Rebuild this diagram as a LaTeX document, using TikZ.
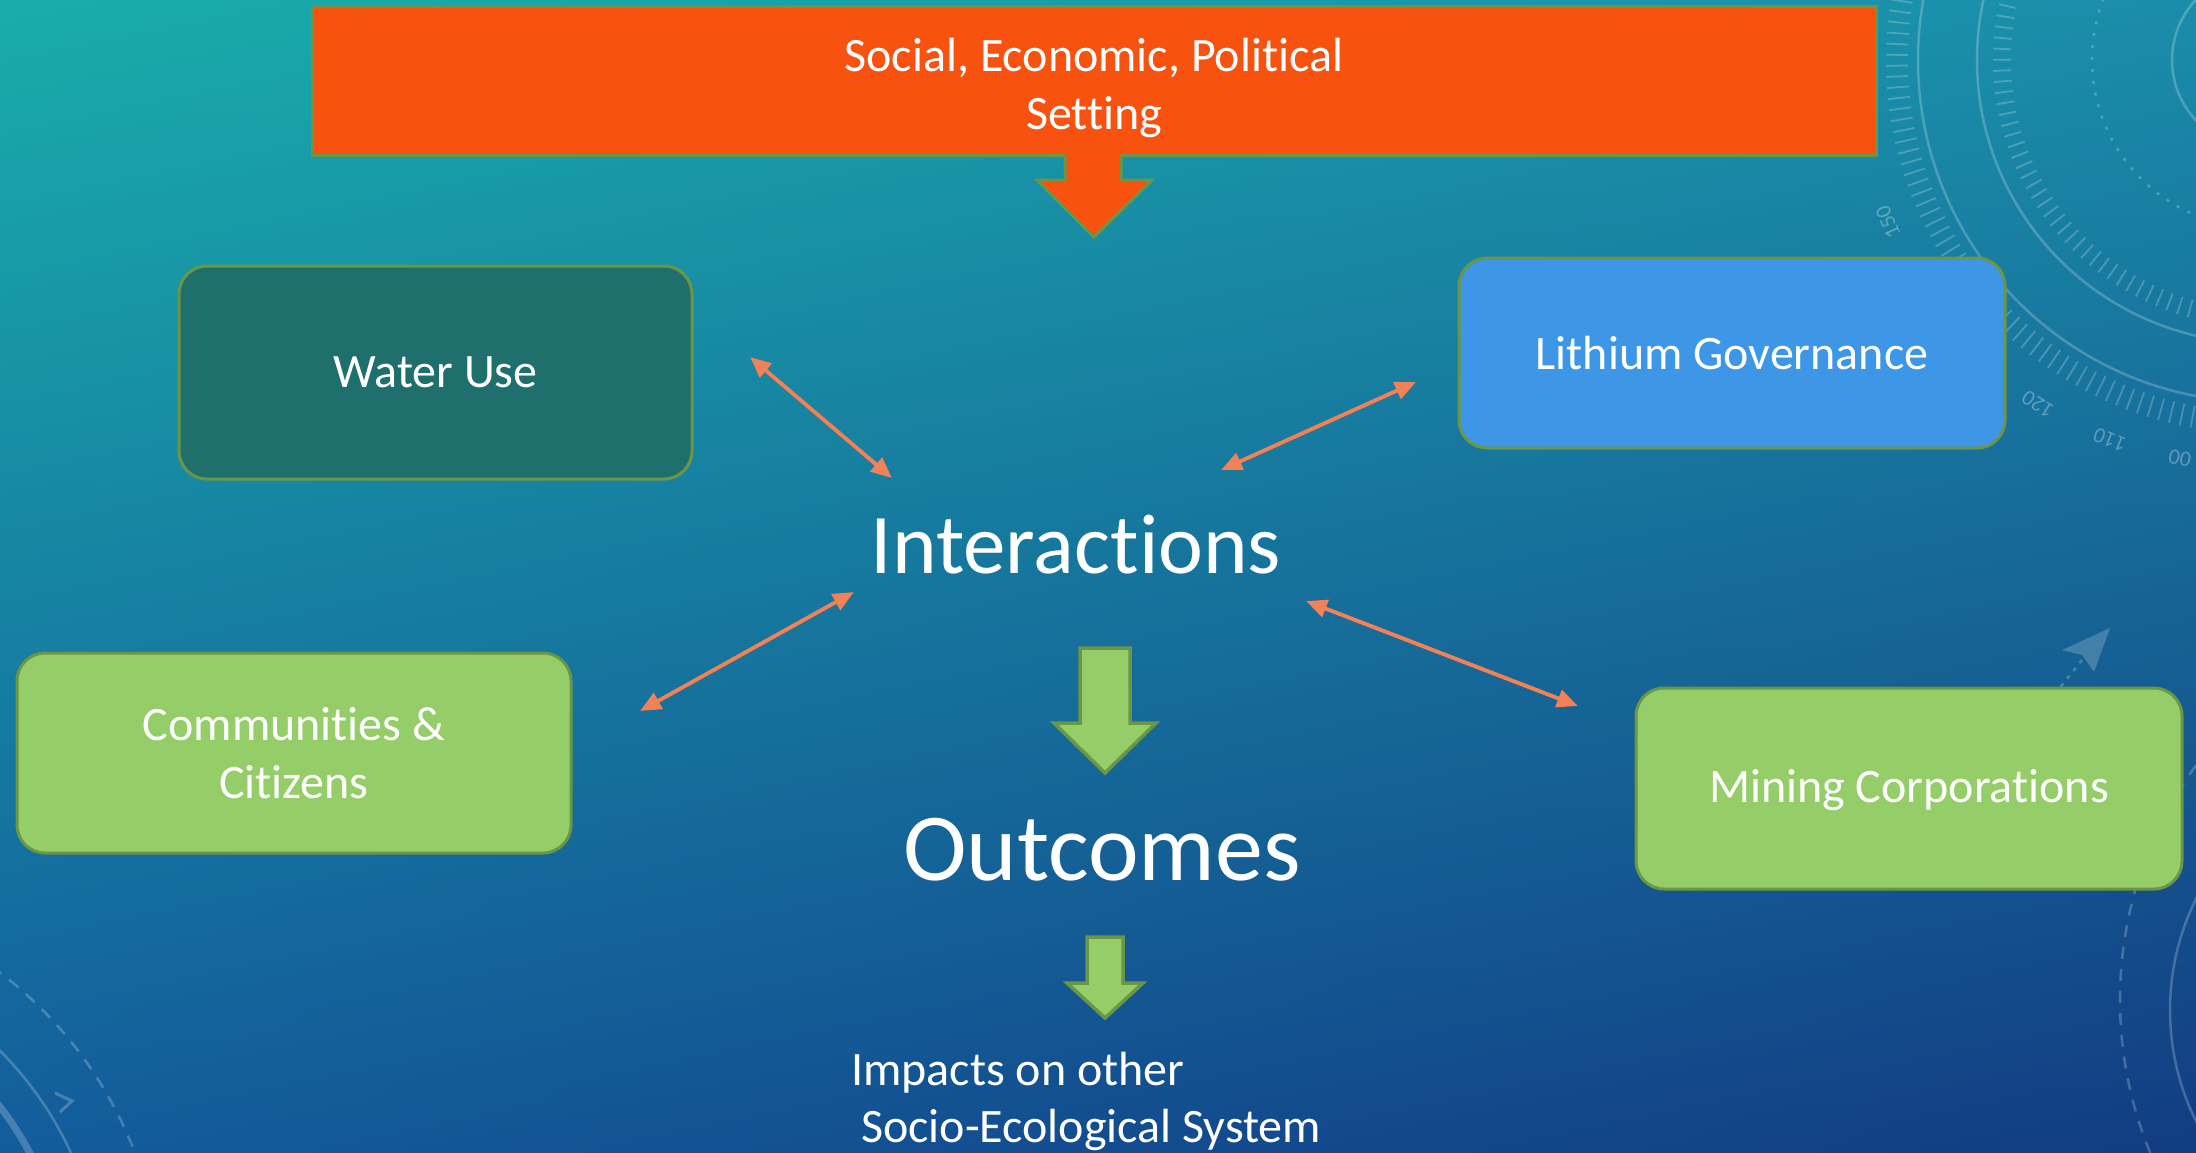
\documentclass[tikz,border=0pt]{standalone}
\usepackage{fontspec}
\setmainfont{Carlito}[Ligatures=NoCommon]
\usetikzlibrary{arrows.meta,shadings}
\definecolor{bgUL}{RGB}{25,173,170}
\definecolor{bgUR}{RGB}{26,141,170}
\definecolor{bgLL}{RGB}{19,92,156}
\definecolor{bgLR}{RGB}{18,60,130}
\definecolor{setorange}{RGB}{248,82,16}
\definecolor{edgegreen}{RGB}{106,150,70}
\definecolor{waterteal}{RGB}{31,112,108}
\definecolor{govblue}{RGB}{61,151,230}
\definecolor{actorgreen}{RGB}{149,206,104}
\definecolor{linkorange}{RGB}{240,130,90}
\begin{document}
\begin{tikzpicture}[x=1pt,y=-1pt,
  box/.style={rounded corners=28pt, draw=edgegreen, line width=3pt, text=white,
    font=\fontsize{48}{58}\selectfont, align=center, inner sep=0pt},
  deco/.style={draw=white, opacity=0.22, line width=2.5pt},
  decotick/.style={draw=white, opacity=0.22, line width=22pt, dash pattern=on 1.8pt off 9pt},
  deconum/.style={text=white, opacity=0.3, font=\fontsize{22}{22}\selectfont, inner sep=0pt},
  link/.style={draw=linkorange, line width=4pt, {Triangle[length=21pt,width=18pt]}-{Triangle[length=21pt,width=18pt]}},
  linkshadow/.style={draw=black, opacity=0.3, line width=4pt, {Triangle[length=21pt,width=18pt]}-{Triangle[length=21pt,width=18pt]}},
  bigtext/.style={text=white, inner sep=0pt, anchor=base},
  blockgreen/.style={fill=actorgreen, draw=edgegreen, line width=3.5pt, line join=miter}
]
\useasboundingbox (0,0) rectangle (2196,1152);
% background
\shade[upper left=bgUL, upper right=bgUR, lower left=bgLL, lower right=bgLR] (0,0) rectangle (2196,1152);
\begin{scope}
\clip (0,0) rectangle (2196,1152);
% top-right dial
\draw[deco] (2260,60) circle[radius=342];
\draw[deco] (2260,60) circle[radius=283];
\draw[deco, dash pattern=on 3pt off 9pt] (2260,60) circle[radius=168];
\draw[deco] (2260,60) circle[radius=88];
\draw[decotick] (2260,60) circle[radius=363];
\draw[decotick, line width=18pt] (2260,60) circle[radius=258];
\node[deconum, rotate=113] at (1888,222) {150};
\node[deconum, rotate=147] at (2038,404) {120};
\node[deconum, rotate=158] at (2110,440) {110};
\node[deconum, rotate=168] at (2180,458) {00};
% bottom-left dial
\draw[deco, dash pattern=on 12pt off 10pt] (-250,1300) circle[radius=412];
\draw[deco] (-250,1300) circle[radius=353];
\draw[deco, line width=7pt] (-250,1300) circle[radius=316];
\draw[deco, line width=3pt] (55,1093) -- (72,1101) -- (60,1112);
% bottom-right dial
\draw[deco, dash pattern=on 12pt off 10pt] (2520,1000) circle[radius=400];
\draw[deco] (2420,1010) circle[radius=250];
\fill[white, opacity=0.2] (2110,628) -- (2062,650) -- (2082,655) -- (2094,672) -- cycle;
\draw[deco, dash pattern=on 4pt off 6pt] (2082,660) -- (2050,700);
\end{scope}

% setting box and arrow
\node[box, rounded corners=0pt, fill=setorange, minimum width=1564pt, minimum height=149pt] (setting) at (1094,80.5) {};
\node[box, draw=none] (settingtext) at (1094,88) {Social, Economic, Political\\Setting};
\fill[setorange] (1065,150) -- (1121,150) -- (1121,180) -- (1152,180) -- (1094,237) -- (1037,180) -- (1065,180) -- cycle;
\draw[edgegreen, line width=3pt, line join=miter] (1065,156) -- (1065,180) -- (1037,180) -- (1094,237) -- (1152,180) -- (1121,180) -- (1121,156);

% actor boxes
\node[box, fill=waterteal, minimum width=513pt, minimum height=213pt] (water) at (435.5,372.5) {Water Use};
\node[box, fill=govblue, minimum width=546pt, minimum height=190pt] (gov) at (1732,353) {Lithium Governance};
\node[box, fill=actorgreen, minimum width=554pt, minimum height=200pt] (comm) at (294,753) {Communities \&\\Citizens};
\node[box, fill=actorgreen, minimum width=546pt, minimum height=201pt, text depth=5pt] (mining) at (1909,788.5) {Mining Corporations};

% central texts
\node[bigtext, font=\fontsize{85}{85}\selectfont] (inter) at (1076,573) {Interactions};
\node[bigtext, font=\fontsize{96}{96}\selectfont] (out) at (1102,880) {Outcomes};
\node[bigtext, anchor=base west, font=\fontsize{48}{48}\selectfont] (imp1) at (851,1085) {Impacts on other};
\node[bigtext, anchor=base west, font=\fontsize{48}{48}\selectfont] (imp2) at (861,1142) {Socio-Ecological System};

% interaction links
\coordinate (w1) at (750,357);  \coordinate (w2) at (892,478);
\coordinate (g1) at (1416,382); \coordinate (g2) at (1221,470);
\coordinate (c1) at (854,592);  \coordinate (c2) at (640,711);
\coordinate (m1) at (1306,601); \coordinate (m2) at (1578,706);
\begin{scope}[shift={(3,4)}]
\draw[linkshadow] (w1) -- (w2);
\draw[linkshadow] (g1) -- (g2);
\draw[linkshadow] (c1) -- (c2);
\draw[linkshadow] (m1) -- (m2);
\end{scope}
\draw[link] (w1) -- (w2);
\draw[link] (g1) -- (g2);
\draw[link] (c1) -- (c2);
\draw[link] (m1) -- (m2);

% green block arrows
\draw[blockgreen] (1080,648) -- (1130,648) -- (1130,723) -- (1156,723) -- (1105,773) -- (1054,723) -- (1080,723) -- cycle;
\draw[blockgreen] (1087,937) -- (1123,937) -- (1123,983) -- (1143,983) -- (1105,1018) -- (1067,983) -- (1087,983) -- cycle;
\end{tikzpicture}
\end{document}
